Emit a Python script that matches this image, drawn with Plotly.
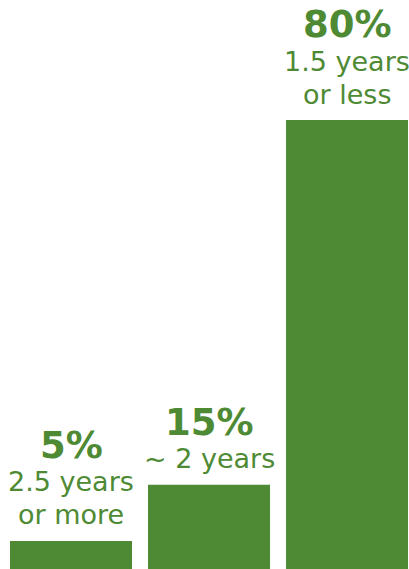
import plotly.graph_objects as go

categories = ["2.5 years or more", "~ 2 years", "1.5 years or less"]
values = [5, 15, 80]
pct_labels = ["5%", "15%", "80%"]
sub_labels = [["2.5 years", "or more"], ["~ 2 years"], ["1.5 years", "or less"]]

GREEN = "#4e8a34"
FONT = "DejaVu Sans"

fig = go.Figure(go.Bar(x=list(range(len(values))), y=values, marker_color=GREEN,
                       marker_line_width=0, width=0.884, hoverinfo="skip"))

annotations = []
LAST_BASE = 16     # px above bar top for last subtitle baseline
LINE_SP = 33
PCT_GAP = 33
SUB_SIZE = 27
PCT_SIZE = 37
for i, v in enumerate(values):
    lines = sub_labels[i]
    n = len(lines)
    for j, line in enumerate(lines):
        base = LAST_BASE + (n - 1 - j) * LINE_SP
        annotations.append(dict(x=i, y=v, xref="x", yref="y", text=line, showarrow=False,
                                yanchor="bottom", xanchor="center", yshift=base - 0.24 * SUB_SIZE - 1,
                                font=dict(family=FONT, size=SUB_SIZE, color=GREEN)))
    base = LAST_BASE + (n - 1) * LINE_SP + PCT_GAP
    annotations.append(dict(x=i, y=v, xref="x", yref="y", text="<b>" + pct_labels[i] + "</b>",
                            showarrow=False, yanchor="bottom", xanchor="center",
                            yshift=base - 0.24 * PCT_SIZE - 1,
                            font=dict(family=FONT, size=PCT_SIZE, color=GREEN)))

fig.update_layout(
    width=409, height=569, margin=dict(l=0, r=0, t=0, b=0),
    paper_bgcolor="white", plot_bgcolor="white", showlegend=False,
    xaxis=dict(range=[-0.5145, 2.449], visible=False, fixedrange=True),
    yaxis=dict(range=[0, 101.4], visible=False, fixedrange=True),
    annotations=annotations,
)

fig.write_html("out.html", config={"displayModeBar": False})
